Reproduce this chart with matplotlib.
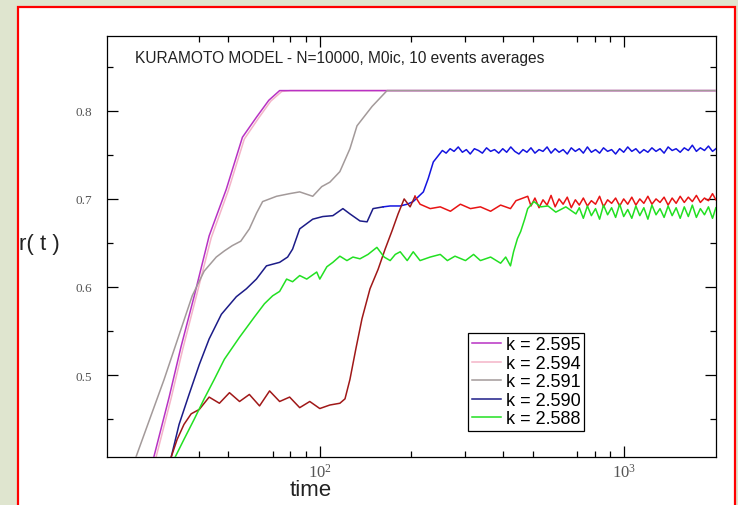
import matplotlib
matplotlib.use("Agg")
import matplotlib.pyplot as plt
from matplotlib.patches import Rectangle
from matplotlib.ticker import FixedLocator, MultipleLocator, NullFormatter, LogFormatterSciNotation

plt.rcParams['font.family'] = ['Liberation Sans', 'DejaVu Sans']
plt.rcParams['mathtext.fontset'] = 'stix'

# k = 2.595
t_595 = [28.5, 32, 35, 38.7, 43.3, 49.3, 55.7, 62, 68, 73.8, 80, 100, 200, 500, 1000, 2000]
r_595 = [0.407, 0.475, 0.532, 0.590, 0.658, 0.711, 0.770, 0.793, 0.812, 0.823, 0.823,
         0.823, 0.823, 0.823, 0.823, 0.823]

# k = 2.594 (sits under the 2.595 curve)
t_594 = [29.0, 32.5, 35.5, 39.2, 44.0, 50.0, 56.5, 63, 69, 75, 80, 100, 200, 500, 1000, 2000]
r_594 = [0.407, 0.474, 0.530, 0.588, 0.656, 0.709, 0.768, 0.792, 0.811, 0.822, 0.823,
         0.823, 0.823, 0.823, 0.823, 0.823]

# k = 2.591
t_591 = [24.9, 30.8, 38.1, 41.7, 45.7, 48.6, 51.6, 55.0, 58.7, 62.0, 64.9, 72.1, 79.6, 85.9,
         94.8, 101.5, 107.9, 116.4, 125.6, 132.5, 148.5, 166.3, 200, 500, 1000, 2000]
r_591 = [0.407, 0.495, 0.590, 0.618, 0.634, 0.641, 0.647, 0.652, 0.666, 0.684, 0.697, 0.703,
         0.706, 0.708, 0.703, 0.714, 0.719, 0.731, 0.757, 0.783, 0.805, 0.823, 0.823, 0.823,
         0.823, 0.823]

# k = 2.590: rise, then the long noisy plateau
t_590 = [32.5, 34.5, 37.2, 40.2, 43.3, 47.5, 53.2, 57.4, 61.9, 66.8, 73.8, 78.4, 81.4, 85.9,
         94.8, 102.3, 110.4, 119.1, 125.6, 135.5, 143, 149.6, 161.5, 170.3, 183.7, 193.7,
         202.7, 218.9, 227, 236, 252.7,
         260, 268, 276, 285, 294, 303, 312, 322, 332, 342,
         353, 364, 375, 387, 399, 411, 424, 437, 451, 465,
         479, 494, 509, 525, 541, 558, 575, 593, 611, 630,
         650, 670, 691, 712, 734, 757, 780, 805, 830, 855,
         882, 909, 937, 966, 996, 1027, 1059, 1092, 1125, 1160,
         1196, 1233, 1272, 1311, 1352, 1394, 1437, 1481, 1527, 1575,
         1624, 1674, 1726, 1779, 1835, 1891, 1950, 2000]
r_590 = [0.407, 0.444, 0.478, 0.512, 0.541, 0.569, 0.589, 0.598, 0.609, 0.624, 0.628, 0.634,
         0.643, 0.666, 0.677, 0.680, 0.681, 0.689, 0.683, 0.675, 0.674, 0.689, 0.691, 0.692,
         0.692, 0.694, 0.697, 0.708, 0.723, 0.742, 0.755,
         0.752, 0.757, 0.754, 0.759, 0.753, 0.756, 0.751, 0.757, 0.755, 0.752,
         0.758, 0.754, 0.756, 0.752, 0.757, 0.753, 0.759, 0.754, 0.751, 0.756,
         0.753, 0.758, 0.752, 0.756, 0.754, 0.759, 0.752, 0.757, 0.753, 0.756,
         0.751, 0.758, 0.754, 0.757, 0.752, 0.759, 0.753, 0.756, 0.752, 0.758,
         0.754, 0.756, 0.751, 0.757, 0.753, 0.759, 0.754, 0.757, 0.752, 0.756,
         0.753, 0.758, 0.754, 0.757, 0.752, 0.759, 0.755, 0.757, 0.753, 0.758,
         0.755, 0.761, 0.754, 0.758, 0.755, 0.760, 0.754, 0.757]

# unlabelled red run
t_red = [32.5, 34.0, 35.8, 37.8, 40.2, 43.3, 46.8, 50.5, 54.5, 58.7, 63.4, 68.4, 73.8, 79.6,
         85.9, 92.7, 100, 107.9, 116.4, 121, 125.6, 131.4, 137.6, 146.2, 155.4, 163.9, 172.8,
         180.8, 189.3, 198, 205.5, 213.5, 230.5, 248.7, 268.6, 289.6, 312.5, 337, 364, 392.6,
         423, 441, 482,
         494, 509, 525, 541, 558, 575, 593, 611, 630,
         650, 670, 691, 712, 734, 757, 780, 805, 830, 855,
         882, 909, 937, 966, 996, 1027, 1059, 1092, 1125, 1160,
         1196, 1233, 1272, 1311, 1352, 1394, 1437, 1481, 1527, 1575,
         1624, 1674, 1726, 1779, 1835, 1891, 1950, 2000]
r_red = [0.407, 0.427, 0.444, 0.456, 0.461, 0.475, 0.468, 0.480, 0.470, 0.478, 0.465, 0.482,
         0.470, 0.475, 0.463, 0.470, 0.462, 0.466, 0.468, 0.473, 0.495, 0.530, 0.564, 0.598,
         0.620, 0.643, 0.664, 0.683, 0.700, 0.691, 0.703, 0.694, 0.689, 0.691, 0.686, 0.694,
         0.689, 0.691, 0.686, 0.693, 0.689, 0.698, 0.703,
         0.692, 0.701, 0.690, 0.699, 0.693, 0.704, 0.691, 0.700, 0.694,
         0.702, 0.690, 0.699, 0.693, 0.701, 0.692, 0.698, 0.694, 0.703, 0.691,
         0.699, 0.695, 0.701, 0.692, 0.700, 0.694, 0.702, 0.693, 0.700, 0.695,
         0.703, 0.694, 0.700, 0.696, 0.702, 0.693, 0.701, 0.695, 0.703, 0.696,
         0.702, 0.697, 0.704, 0.696, 0.701, 0.698, 0.706, 0.699]

# k = 2.588
t_588 = [33.5, 35.8, 38.7, 41.7, 45, 48.6, 54.5, 61, 65.8, 70, 73.8, 77.8, 81.4, 85.9, 90.6,
         97.7, 100, 105.5, 110.4, 116.4, 122.8, 128.5, 135.5, 144, 154, 162.7, 170.3, 177,
         183.7, 193.7, 202.7, 213.5, 230.5, 248.7, 262.5, 278, 301, 320, 337, 364, 392.6, 408,
         423, 433, 446, 457, 471, 482, 505, 532, 562, 596, 643, 694,
         712, 734, 757, 780, 805, 830, 855,
         882, 909, 937, 966, 996, 1027, 1059, 1092, 1125, 1160,
         1196, 1233, 1272, 1311, 1352, 1394, 1437, 1481, 1527, 1575,
         1624, 1674, 1726, 1779, 1835, 1891, 1950, 2000]
r_588 = [0.407, 0.427, 0.450, 0.473, 0.495, 0.518, 0.543, 0.566, 0.581, 0.590, 0.595, 0.609,
         0.606, 0.613, 0.609, 0.617, 0.609, 0.623, 0.628, 0.635, 0.630, 0.634, 0.632, 0.637,
         0.645, 0.634, 0.630, 0.637, 0.640, 0.630, 0.640, 0.630, 0.634, 0.637, 0.630, 0.635,
         0.630, 0.637, 0.630, 0.634, 0.627, 0.634, 0.624, 0.640, 0.655, 0.663, 0.677, 0.689,
         0.697, 0.691, 0.692, 0.685, 0.691, 0.683,
         0.690, 0.678, 0.692, 0.681, 0.689, 0.677, 0.693,
         0.682, 0.690, 0.679, 0.694, 0.680, 0.688, 0.678, 0.692, 0.681, 0.690,
         0.677, 0.693, 0.682, 0.689, 0.679, 0.692, 0.681, 0.690, 0.678, 0.691,
         0.680, 0.693, 0.679, 0.689, 0.682, 0.691, 0.678, 0.690]

labels = ['k = 2.595', 'k = 2.594', 'k = 2.591', 'k = 2.590', 'k = 2.588']


def split(t, r, t_cut):
    n = sum(1 for v in t if v <= t_cut)
    return (t[:n + 1], r[:n + 1]), (t[n:], r[n:])


fig = plt.figure(figsize=(7.38, 5.06), dpi=100)
fig.patch.set_facecolor('#dfe5cf')
frame = Rectangle((0.0244, -0.02), 0.9716, 1.004, transform=fig.transFigure,
                  facecolor='white', edgecolor='#ff0000', linewidth=1.6, zorder=-10)
fig.patches.append(frame)

ax = fig.add_axes([0.145, 0.0949, 0.825, 0.832])
ax.set_facecolor('white')

lw = 1.1
ax.plot(t_594, r_594, color='#f4b4c8', lw=lw, label=labels[1], zorder=2)
ax.plot(t_595, r_595, color='#b832c4', lw=lw, label=labels[0], zorder=3)
ax.plot(t_591, r_591, color='#a39a9a', lw=lw, label=labels[2], zorder=3)

(b1, b2) = split(t_590, r_590, 150)
ax.plot(*b1, color='#1c1c88', lw=lw, label=labels[3], zorder=4)
ax.plot(*b2, color='#1414e0', lw=lw, zorder=4)

(c1, c2) = split(t_red, r_red, 200)
ax.plot(*c1, color='#a01818', lw=lw, zorder=4)
ax.plot(*c2, color='#e81414', lw=lw, zorder=4)

ax.plot(t_588, r_588, color='#22e022', lw=lw, label=labels[4], zorder=5)

ax.set_xscale('log')
ax.set_xlim(20, 2000)
ax.set_ylim(0.407, 0.885)

ax.xaxis.set_major_locator(FixedLocator([100, 1000]))
ax.xaxis.set_major_formatter(LogFormatterSciNotation())
ax.xaxis.set_minor_locator(FixedLocator([40, 50, 70, 80, 90, 200, 300, 400, 500, 700, 800, 900]))
ax.xaxis.set_minor_formatter(NullFormatter())
ax.yaxis.set_major_locator(FixedLocator([0.5, 0.6, 0.7, 0.8]))
ax.yaxis.set_minor_locator(MultipleLocator(0.05))

ax.tick_params(which='both', direction='in', top=True, right=True, width=0.9,
               colors='black', labelcolor='#555555')
ax.tick_params(which='major', length=8)
ax.tick_params(which='minor', length=4)
ax.tick_params(axis='y', which='major', pad=11, labelsize=9.5)
ax.tick_params(axis='x', which='major', pad=4, labelsize=12)
for lab in ax.get_xticklabels() + ax.get_yticklabels():
    lab.set_family(['Liberation Serif', 'DejaVu Serif'])
for s in ax.spines.values():
    s.set_linewidth(0.9)

ax.text(0.046, 0.950, 'KURAMOTO MODEL - N=10000, M0ic, 10 events averages',
        transform=ax.transAxes, fontsize=11.2, va='center', ha='left', color='#222222')

fig.text(0.054, 0.516, 'r( t )', fontsize=16, ha='center', va='center', color='#222222')
fig.text(0.421, 0.030, 'time', fontsize=16, ha='center', va='center', color='#222222')

h, l = ax.get_legend_handles_labels()
order = [l.index(s) for s in labels]
leg = ax.legend([h[i] for i in order], [l[i] for i in order],
                loc='lower left', bbox_to_anchor=(0.593, 0.062), fontsize=13,
                frameon=True, fancybox=False, edgecolor='black', framealpha=1,
                handlelength=1.6, handletextpad=0.3, labelspacing=0.08, borderpad=0.2,
                borderaxespad=0)
leg.get_frame().set_linewidth(0.9)

fig.savefig('out.png', dpi=100, facecolor=fig.get_facecolor())
